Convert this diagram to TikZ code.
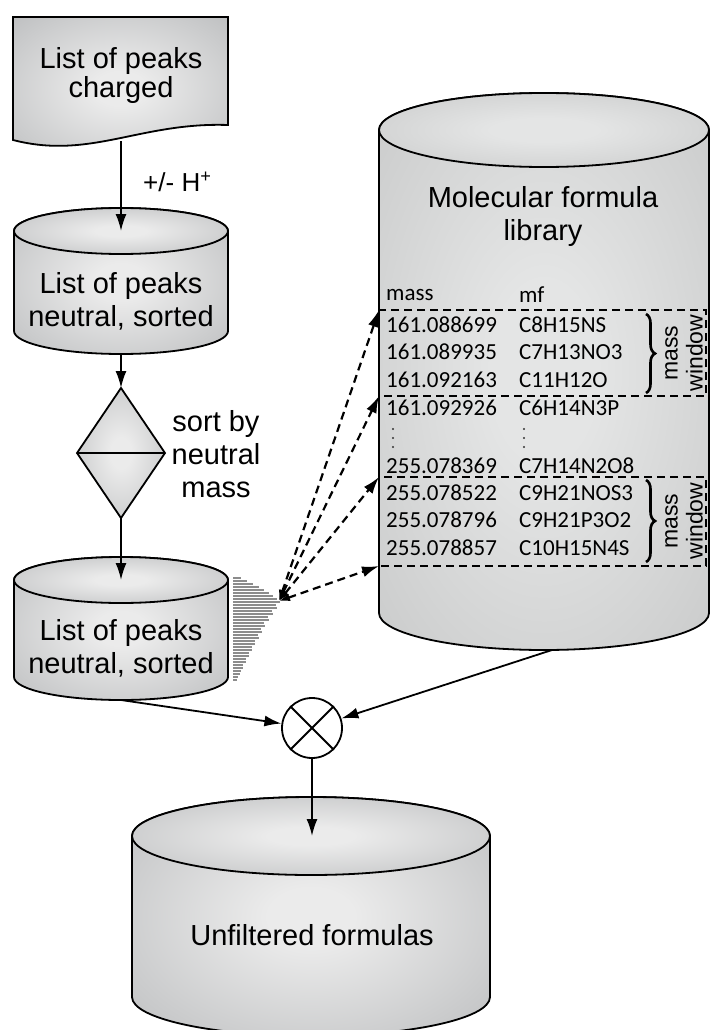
\documentclass[tikz,border=0pt]{standalone}
\usepackage{fontspec}
\setmainfont{Liberation Sans}
\newfontfamily\tablefont{Carlito}
\usetikzlibrary{arrows.meta,decorations.pathreplacing,calc}

\definecolor{shadeIn}{HTML}{EBEBEB}
\definecolor{shadeOut}{HTML}{A9ABAD}
\definecolor{libIn}{HTML}{E4E5E5}
\definecolor{libOut}{HTML}{C6C7C7}
\definecolor{peakgray}{HTML}{8C8C8C}

\pgfdeclareradialshading{softdrum}{\pgfpoint{0bp}{0bp}}{color(0bp)=(shadeIn); color(6bp)=(shadeIn); color(50bp)=(shadeOut); color(72bp)=(shadeOut)}
\pgfdeclareradialshading{softlib}{\pgfpoint{0bp}{0bp}}{color(0bp)=(libIn); color(8bp)=(libIn); color(40bp)=(libOut); color(72bp)=(libOut)}

% cylinder: #1 shading, #2 centre x, #3 top y, #4 bottom y, #5 x radius, #6 y radius
\newcommand\drumshape[6]{%
  \path[outline, shading=#1]
    (#2-#5,#3) -- (#2-#5,#4)
    arc[start angle=180, end angle=360, x radius=#5pt, y radius=#6pt]
    -- (#2+#5,#3)
    arc[start angle=0, end angle=180, x radius=#5pt, y radius=#6pt] -- cycle;
  \path[outline, shading=#1] (#2,#3) ellipse [x radius=#5pt, y radius=#6pt];
}

\tikzset{
  outline/.style={draw=black, line width=1.8pt},
  label/.style={font=\fontsize{29}{33}\selectfont, align=center, inner sep=0pt},
  cell/.style={font=\tablefont\fontsize{23}{24}\selectfont, anchor=west, inner sep=0pt},
  flow/.style={line width=1.8pt, -{Latex[length=17pt,width=11pt]}},
  lookup/.style={line width=2.2pt, dash pattern=on 8pt off 5pt,
    {Latex[length=11pt,width=8pt]}-{Latex[length=17pt,width=11pt]}},
  window/.style={line width=1.8pt, dash pattern=on 8pt off 5pt},
  bracket/.style={line width=2.6pt, decorate, decoration={brace, amplitude=9pt}},
  peak/.style={draw=peakgray, line width=1.5pt},
  listdot/.style={circle, fill=black!80, inner sep=0pt, minimum size=2.4pt},
}

\begin{document}
\begin{tikzpicture}[x=1pt, y=-1pt]
\useasboundingbox (0,0) rectangle (709,1030);

% charged peak list (document shape)
\path[outline, shading=softdrum]
  (13,17) -- (228,17) -- (228,125)
  .. controls (140,122) and (90,160) .. (13,140) -- cycle;
\node[label, font=\fontsize{29}{29}\selectfont] (charged) at (121,76) {List of peaks\\charged};
\coordinate (chargedbot) at (121,141);

% neutral, sorted list
\drumshape{softdrum}{121}{231}{331}{107}{23}
\node[label] (neutralA) at (121,301) {List of peaks\\neutral, sorted};
\coordinate (neutralAtop) at (121,231);
\coordinate (neutralAbot) at (121,354);

% sorting step
\path[outline, shading=softdrum] (121,388) -- (165,453) -- (121,518) -- (77,453) -- cycle;
\draw[outline] (77,453) -- (165,453);
\coordinate (sorttop) at (121,388);
\coordinate (sortbot) at (121,518);
\node[label] (sortlabel) at (216,454) {sort by\\neutral\\mass};

% sorted list with its peak profile
\drumshape{softdrum}{121}{580}{677}{107}{23}
\node[label] (neutralB) at (121,648) {List of peaks\\neutral, sorted};
\coordinate (neutralBtop) at (121,580);
\coordinate (neutralBbot) at (121,700);

\foreach \k/\len in {0/8,1/14,2/20,3/26,4/31,5/36,6/40,7/44,8/47,9/43,10/44,11/39,
  12/40,13/35,14/36,15/31,16/32,17/28,18/29,19/25,20/26,21/22,22/22,23/19,24/19,
  25/16,26/16,27/13,28/13,29/10,30/10,31/8,32/7,33/5,34/4}
  \draw[peak] (233,578+3*\k) -- ++(\len,0);
\coordinate (peaks) at (279,601);

% molecular formula library
\drumshape{softlib}{544}{130}{613}{165}{37}
\node[label] (libtitle) at (543,217) {Molecular formula\\library};

\node[cell] (hmass) at (386,295) {mass};
\node[cell] (hmf) at (519,295) {mf};

\foreach \y/\m/\f [count=\i] in {
  325/161.088699/C8H15NS, 352/161.089935/C7H13NO3, 380/161.092163/C11H12O,
  408/161.092926/C6H14N3P, 466/255.078369/C7H14N2O8,
  493/255.078522/C9H21NOS3, 520/255.078796/C9H21P3O2, 548/255.078857/C10H15N4S}{
  \node[cell] (m\i) at (386,\y) {\m};
  \node[cell] (f\i) at (519,\y) {\f};
}
% elided rows
\foreach \y [count=\j] in {429,438,447} {
  \node[listdot] (dm\j) at (393,\y) {};
  \node[listdot] (df\j) at (524,\y) {};
}

% mass windows
\draw[window] (379,310) rectangle (706,396);
\draw[window] (379,477) rectangle (706,566);
\coordinate (w1top) at (379,310);
\coordinate (w1bot) at (379,396);
\coordinate (w2top) at (379,477);
\coordinate (w2bot) at (379,566);

\draw[bracket] (646,314) -- (646,393);
\draw[bracket] (646,480) -- (646,562);
\node[font=\fontsize{23}{25}\selectfont, align=center, rotate=90, inner sep=0pt] (win1) at (684,353) {mass\\window};
\node[font=\fontsize{23}{25}\selectfont, align=center, rotate=90, inner sep=0pt] (win2) at (684,521) {mass\\window};

\coordinate (libbot) at (552,650);

% combination and result
\node[circle, draw, line width=1.8pt, fill=white, minimum size=60pt, inner sep=0pt] (mix) at (312,728) {};
\draw[line width=1.8pt] (mix.north east) -- (mix.south west) (mix.north west) -- (mix.south east);

\drumshape{softdrum}{311}{836}{997}{179}{39}
\node[label] (result) at (312,935) {Unfiltered formulas};
\coordinate (resulttop) at (312,836);

% connectors
\draw[flow] (chargedbot) -- node[right=18pt, font=\fontsize{26}{26}\selectfont, pos=0.45] (hlabel) {+/- H\textsuperscript{+}} (neutralAtop);
\draw[flow] (neutralAbot) -- (sorttop);
\draw[flow] (sortbot) -- (neutralBtop);

\draw[lookup] (peaks) -- (w1top);
\draw[lookup] (peaks) -- (w1bot);
\draw[lookup] (peaks) -- (w2top);
\draw[lookup] (peaks) -- (w2bot);

\draw[flow] (neutralBbot) -- (mix);
\draw[flow] (libbot) -- (mix);
\draw[flow] (mix) -- (resulttop);
\end{tikzpicture}
\end{document}
